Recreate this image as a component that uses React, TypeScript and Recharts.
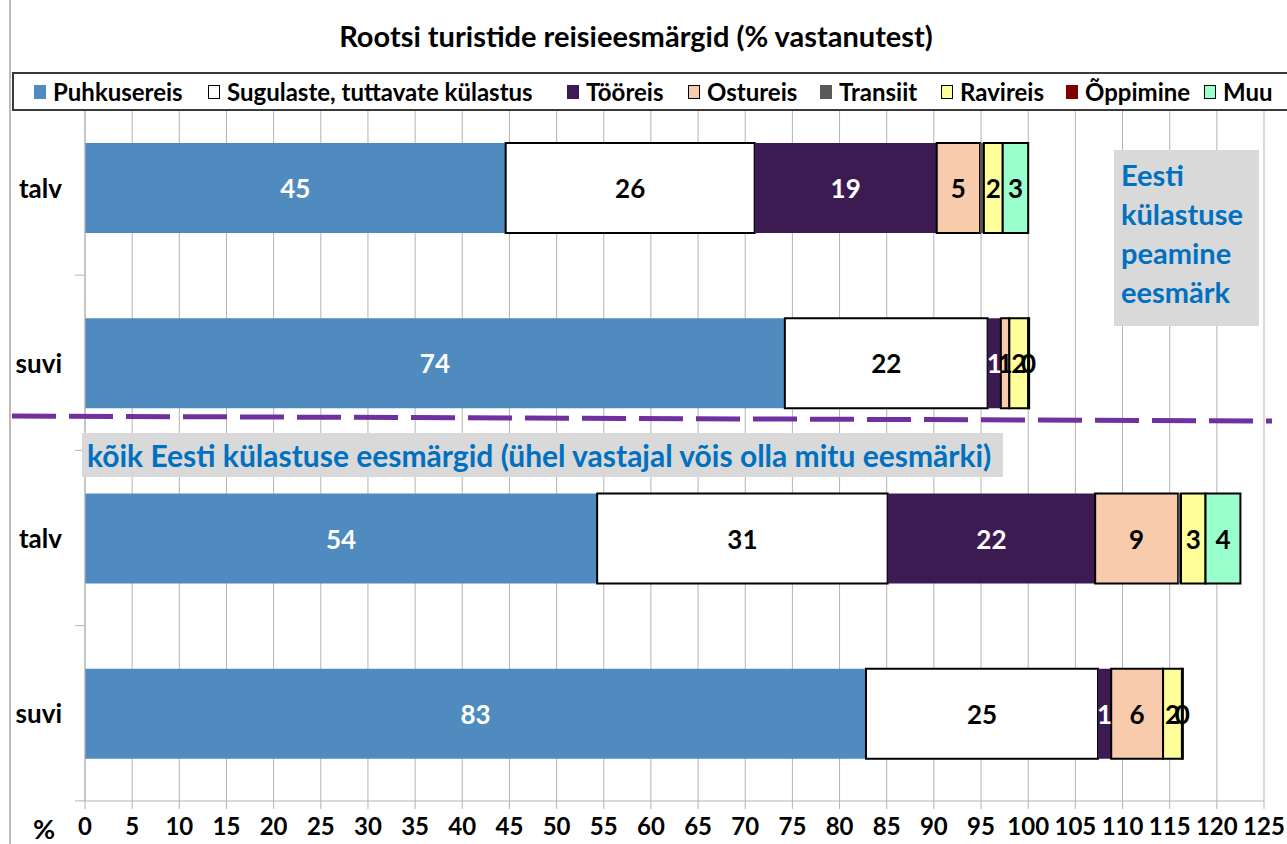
import React from 'react';
import { BarChart, Bar, XAxis, YAxis, CartesianGrid, Legend, LabelList } from 'recharts';

// kategooriad (ülemine paar = peamine eesmärk, alumine paar = kõik eesmärgid)
const categories = ['talv', 'suvi', 'talv', 'suvi'];

const seriesNames = [
  'Puhkusereis',
  'Sugulaste, tuttavate külastus',
  'Tööreis',
  'Ostureis',
  'Transiit',
  'Ravireis',
  'Õppimine',
  'Muu',
];

// väärtused (%), loetud pildilt
const puhkusereis = [44.6, 74.2, 54.3, 82.8];
const sugulaste = [26.4, 21.5, 30.8, 24.6];
const tooreis = [19.3, 1.4, 22.0, 1.4];
const ostureis = [4.6, 0.9, 8.8, 5.5];
const transiit = [0.4, null, 0.3, null];
const ravireis = [2.0, 2.0, 2.6, 2.0];
const oppimine = [null, null, null, null];
const muu = [2.7, 0.1, 3.7, 0.1];

const xTicks = [0, 5, 10, 15, 20, 25, 30, 35, 40, 45, 50, 55, 60, 65, 70, 75, 80, 85, 90, 95, 100, 105, 110, 115, 120, 125];

const FONT = 'Lato, "Open Sans", sans-serif';
const BLUE = '#0070C0';
const GRID = '#B4B4B4';

const series = [
  { key: 'puhkusereis', values: puhkusereis, fill: '#4F8BBF', stroke: '#4F8BBF', label: '#ffffff' },
  { key: 'sugulaste', values: sugulaste, fill: '#ffffff', stroke: '#000000', label: '#000000' },
  { key: 'tooreis', values: tooreis, fill: '#3C1A52', stroke: '#3C1A52', label: '#ffffff' },
  { key: 'ostureis', values: ostureis, fill: '#F8CBAD', stroke: '#000000', label: '#000000' },
  { key: 'transiit', values: transiit, fill: '#595959', stroke: '#595959', label: null },
  { key: 'ravireis', values: ravireis, fill: '#FFFF99', stroke: '#000000', label: '#000000' },
  { key: 'oppimine', values: oppimine, fill: '#7F0000', stroke: '#7F0000', label: null },
  { key: 'muu', values: muu, fill: '#99FFCC', stroke: '#000000', label: '#000000' },
].map((s, i) => ({ ...s, name: seriesNames[i] }));

const data = categories.map((c, i) => {
  const row: any = { id: `${c}-${i}`, name: c };
  series.forEach((s) => {
    row[s.key] = s.values[i];
  });
  return row;
});

const makeLabel = (color: string | null) => (props: any) => {
  const { x, y, width, height, value } = props;
  if (!color || value == null || value === 0) return null;
  return (
    <text
      x={x + width / 2}
      y={y + height / 2}
      textAnchor="middle"
      dominantBaseline="central"
      fill={color}
      fontFamily={FONT}
      fontWeight={700}
      fontSize={26}
    >
      {Math.round(value)}
    </text>
  );
};

const CategoryTick = (props: any) => {
  const { y, index } = props;
  return (
    <g>
      <text x={62} y={y} textAnchor="end" dominantBaseline="central" fill="#000" fontFamily={FONT} fontWeight={700} fontSize={26}>
        {categories[index]}
      </text>
      <line x1={75} x2={85} y1={y + 87.5} y2={y + 87.5} stroke={GRID} />
      {index === 0 && <line x1={75} x2={85} y1={y - 87.5} y2={y - 87.5} stroke={GRID} />}
    </g>
  );
};

// legendi asukohad (marker x)
const legendX = [32, 206, 565, 686, 818, 939, 1064, 1202];

const LegendBox = () => (
  <div style={{ position: 'relative', width: 1290, height: 39, border: '2px solid #3a3a3a', background: '#fff', boxSizing: 'border-box' }}>
    {series.map((s, i) => (
      <div key={s.key} style={{ position: 'absolute', left: legendX[i] - 12, top: 0, height: 35, display: 'flex', alignItems: 'center', whiteSpace: 'nowrap' }}>
        <span style={{ display: 'inline-block', width: 10, height: 12, background: s.fill, border: `1px solid ${s.stroke}`, marginRight: 7 }} />
        <span style={{ fontFamily: FONT, fontWeight: 700, fontSize: 24, color: '#000' }}>{s.name}</span>
      </div>
    ))}
  </div>
);

export default function App() {
  return (
    <div style={{ position: 'absolute', left: 0, top: 0, width: 1287, height: 844, overflow: 'hidden', background: '#fff' }}>
      <BarChart
        width={1287}
        height={844}
        data={data}
        layout="vertical"
        margin={{ top: 100, right: 23, bottom: 0, left: 0 }}
      >
        <CartesianGrid horizontal={false} stroke={GRID} />
        <XAxis
          type="number"
          domain={[0, 125]}
          ticks={xTicks}
          interval={0}
          height={43}
          tickSize={8}
          tickMargin={9}
          stroke={GRID}
          tick={{ fill: '#000', fontSize: 24, fontWeight: 700, fontFamily: FONT }}
        />
        <YAxis type="category" dataKey="id" width={85} stroke={GRID} tickLine={false} tick={<CategoryTick />} />
        <Legend
          layout="horizontal"
          verticalAlign="middle"
          align="center"
          wrapperStyle={{ position: 'absolute', left: 12, top: 72, width: 1290, height: 39 }}
          content={() => <LegendBox />}
        />
        {series.map((s) => (
          <Bar
            key={s.key}
            dataKey={s.key}
            name={s.name}
            stackId="a"
            barSize={90}
            fill={s.fill}
            stroke={s.stroke}
            strokeWidth={s.stroke === '#000000' ? 2 : 0}
            isAnimationActive={false}
          >
            <LabelList dataKey={s.key} content={makeLabel(s.label)} />
          </Bar>
        ))}
      </BarChart>

      {/* tiitel */}
      <div style={{ position: 'absolute', left: 0, top: 18, width: 1272, textAlign: 'center', fontFamily: FONT, fontWeight: 700, fontSize: 29, color: '#000' }}>
        Rootsi turistide reisieesmärgid (% vastanutest)
      </div>

      {/* vasak serv, kriipsjoon, % */}
      <svg width={1287} height={844} style={{ position: 'absolute', left: 0, top: 0, pointerEvents: 'none' }}>
        <line x1={10} x2={10} y1={0} y2={844} stroke="#A6A6A6" strokeWidth={1.5} />
        <line x1={12} y1={416} x2={1272} y2={421} stroke="#7030A0" strokeWidth={5} strokeDasharray="44 13" />
        <text x={44} y={828} textAnchor="middle" dominantBaseline="central" fontFamily={FONT} fontWeight={700} fontSize={27} fill="#000">%</text>
      </svg>

      {/* parempoolne kast */}
      <div style={{ position: 'absolute', left: 1114, top: 150, width: 145, height: 176, background: '#D9D9D9', boxSizing: 'border-box', padding: '5px 0 0 7px', fontFamily: FONT, fontWeight: 700, fontSize: 29, lineHeight: '39px', color: BLUE, whiteSpace: 'nowrap' }}>
        Eesti<br />külastuse<br />peamine<br />eesmärk
      </div>

      {/* alumise osa pealkiri */}
      <div style={{ position: 'absolute', left: 82, top: 433, width: 921, height: 44, background: '#D9D9D9', boxSizing: 'border-box', padding: '0 0 0 5px', fontFamily: FONT, fontWeight: 700, fontSize: 30, lineHeight: '44px', color: BLUE, whiteSpace: 'nowrap' }}>
        kõik Eesti külastuse eesmärgid (ühel vastajal võis olla mitu eesmärki)
      </div>
    </div>
  );
}
